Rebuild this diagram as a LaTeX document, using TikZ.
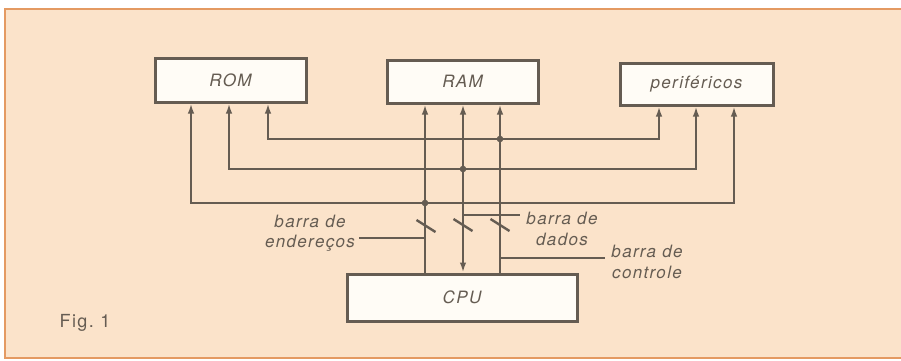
\documentclass[tikz,border=0pt]{standalone}
\usepackage{fontspec}
\setsansfont{TeX Gyre Heros}
\newfontfamily\labfont[LetterSpace=8]{TeX Gyre Heros}
\usetikzlibrary{arrows.meta}
\definecolor{paper}{HTML}{FBE3CA}
\definecolor{ink}{HTML}{655C52}
\definecolor{frameorange}{HTML}{E49A62}
\definecolor{boxfill}{HTML}{FFFCF6}
\tikzset{
  unitbox/.style={draw=ink, line width=3pt, fill=boxfill, inner sep=0pt,
    font=\labfont\itshape\fontsize{17}{20}\selectfont, text=ink},
  bus/.style={draw=ink, line width=2.4pt},
  leader/.style={draw=ink, line width=1.6pt},
  tip/.style={-{Latex[length=10pt,width=6.5pt]}},
  twotip/.style={{Latex[length=10pt,width=6.5pt]}-{Latex[length=10pt,width=6.5pt]}},
  lab/.style={inner sep=0pt, align=center, text=ink,
    font=\labfont\itshape\fontsize{17}{20.5}\selectfont},
  dot/.style={fill=ink}
}
\begin{document}
\begin{tikzpicture}[x=1pt,y=-1pt]
\useasboundingbox (0,0) rectangle (901,360);
\fill[white] (0,0) rectangle (901,360);
\fill[paper] (5,9) rectangle (901,358);
\draw[frameorange, line width=1.8pt] (901,9) -- (5,9) -- (5,358) -- (901,358);

% units
\node[unitbox, minimum width=151pt, minimum height=44pt] (rom) at (230.5,80) {ROM};
\node[unitbox, minimum width=151pt, minimum height=43pt] (ram) at (462.5,81.5) {RAM};
\node[unitbox, minimum width=153pt, minimum height=42pt] (per) at (696.5,84) {periféricos};
\node[unitbox, minimum width=230pt, minimum height=47pt] (cpu) at (462,297.5) {CPU};

% column positions
\coordinate (ra) at (191,0);
\coordinate (rb) at (229,0);
\coordinate (rc) at (268,0);
\coordinate (pa) at (659,0);
\coordinate (pb) at (696,0);
\coordinate (pc) at (734,0);
% junctions on the three buses
\coordinate (jc) at (500,139);
\coordinate (jd) at (463,169);
\coordinate (ja) at (425,203);

% horizontal buses
\draw[bus, twotip] (rom.south -| rc) |- (jc) -| (per.south -| pa);
\draw[bus, twotip] (rom.south -| rb) |- (jd) -| (per.south -| pb);
\draw[bus, twotip] (rom.south -| ra) |- (ja) -| (per.south -| pc);

% vertical buses CPU - RAM
\draw[bus, tip] (cpu.north -| ja) -- (ram.south -| ja);
\draw[bus, twotip] (cpu.north -| jd) -- (ram.south -| jd);
\draw[bus, tip] (cpu.north -| jc) -- (ram.south -| jc);

% junction dots
\fill[dot] (jc) circle (3.3pt);
\fill[dot] (jd) circle (3.3pt);
\fill[dot] (ja) circle (3.3pt);

% slash marks
\coordinate (sa) at (426,226);
\coordinate (sd) at (463,225);
\coordinate (sc) at (500,225);
\draw[bus] (sa) ++(-9.5,-6) -- ++(19,12);
\draw[bus] (sd) ++(-9.5,-6) -- ++(19,12);
\draw[bus] (sc) ++(-9.5,-6) -- ++(19,12);

% labels
\node[lab] (la) at (310,233) {barra de\\endereços};
\node[lab] (ld) at (562,229) {barra de\\dados};
\node[lab] (lc) at (647,262) {barra de\\controle};
\coordinate (ea) at (425,238);
\coordinate (ed) at (463,215);
\coordinate (ec) at (500,258);
\draw[leader] (ea) -- ([xshift=4pt]la.east |- ea);
\draw[leader] (ed) -- ([xshift=-6pt]ld.west |- ed);
\draw[leader] (ec) -- ([xshift=-6pt]lc.west |- ec);

\node[inner sep=0pt, text=ink, font=\labfont\fontsize{18}{20}\selectfont] (fig) at (85,323) {Fig.\ 1};
\end{tikzpicture}
\end{document}
